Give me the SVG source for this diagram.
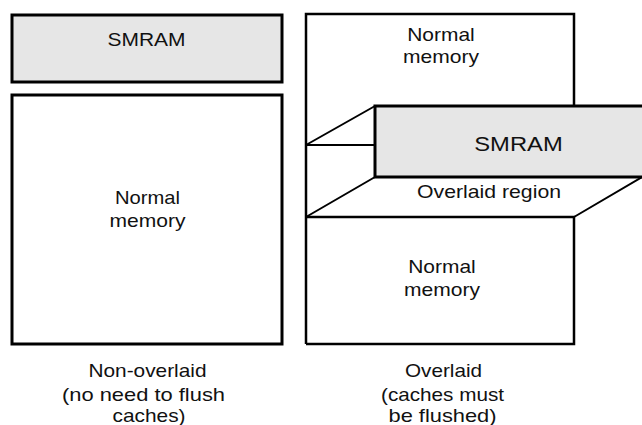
<svg xmlns="http://www.w3.org/2000/svg" width="642" height="425" viewBox="0 0 642 425">
<style>
.box{fill:#fff;stroke:#000;stroke-width:3}
.sm{fill:#e6e6e6;stroke:#000;stroke-width:3}
.ln{fill:none;stroke:#000;stroke-width:2.5;stroke-linejoin:miter}
.dg{fill:none;stroke:#000;stroke-width:2}
text{font-family:"Liberation Sans",Arial,sans-serif;font-size:18.5px;fill:#111;text-anchor:middle}
</style>
<rect width="642" height="425" fill="#fff"/>
<g id="left-smram">
<rect class="sm" x="12" y="15" width="270" height="67"/>
<text x="146.5" y="46" textLength="78" lengthAdjust="spacingAndGlyphs" style="font-size:17.5px">SMRAM</text>
</g>
<g id="left-normal">
<rect class="box" x="12" y="95" width="270" height="249"/>
<text x="147.5" y="204" textLength="65" lengthAdjust="spacingAndGlyphs">Normal</text>
<text x="147.5" y="227" textLength="76" lengthAdjust="spacingAndGlyphs">memory</text>
</g>
<g id="right-top-normal">
<path class="ln" d="M306,344 L306,14 L574,14 L574,106"/>
<text x="441" y="40.5" textLength="67.5" lengthAdjust="spacingAndGlyphs">Normal</text>
<text x="441" y="63" textLength="76" lengthAdjust="spacingAndGlyphs">memory</text>
</g>
<g id="connectors">
<path class="dg" d="M306,145 L375,106 M306,145 L375,145"/>
<path class="dg" d="M306,217 L375,177 M574,217 L642,177"/>
</g>
<g id="overlaid-region">
<text x="489" y="198" textLength="144" lengthAdjust="spacingAndGlyphs">Overlaid region</text>
</g>
<g id="right-smram">
<rect class="sm" x="375" y="106" width="280" height="71"/>
<text x="518.5" y="150.5" textLength="88.5" lengthAdjust="spacingAndGlyphs" style="font-size:19.5px">SMRAM</text>
</g>
<g id="right-bottom-normal">
<path class="ln" d="M306,217 L574,217 L574,344 L306,344"/>
<text x="442" y="272.5" textLength="67.5" lengthAdjust="spacingAndGlyphs">Normal</text>
<text x="442" y="296" textLength="76" lengthAdjust="spacingAndGlyphs">memory</text>
</g>
<g id="caption-left">
<text x="147.5" y="377" textLength="118" lengthAdjust="spacingAndGlyphs">Non-overlaid</text>
<text x="143.5" y="400.5" textLength="163" lengthAdjust="spacingAndGlyphs">(no need to flush</text>
<text x="149" y="421.5" textLength="73" lengthAdjust="spacingAndGlyphs">caches)</text>
</g>
<g id="caption-right">
<text x="443.5" y="377" textLength="77" lengthAdjust="spacingAndGlyphs">Overlaid</text>
<text x="442.5" y="400.5" textLength="123" lengthAdjust="spacingAndGlyphs">(caches must</text>
<text x="442.5" y="421.5" textLength="108" lengthAdjust="spacingAndGlyphs">be flushed)</text>
</g>
</svg>
